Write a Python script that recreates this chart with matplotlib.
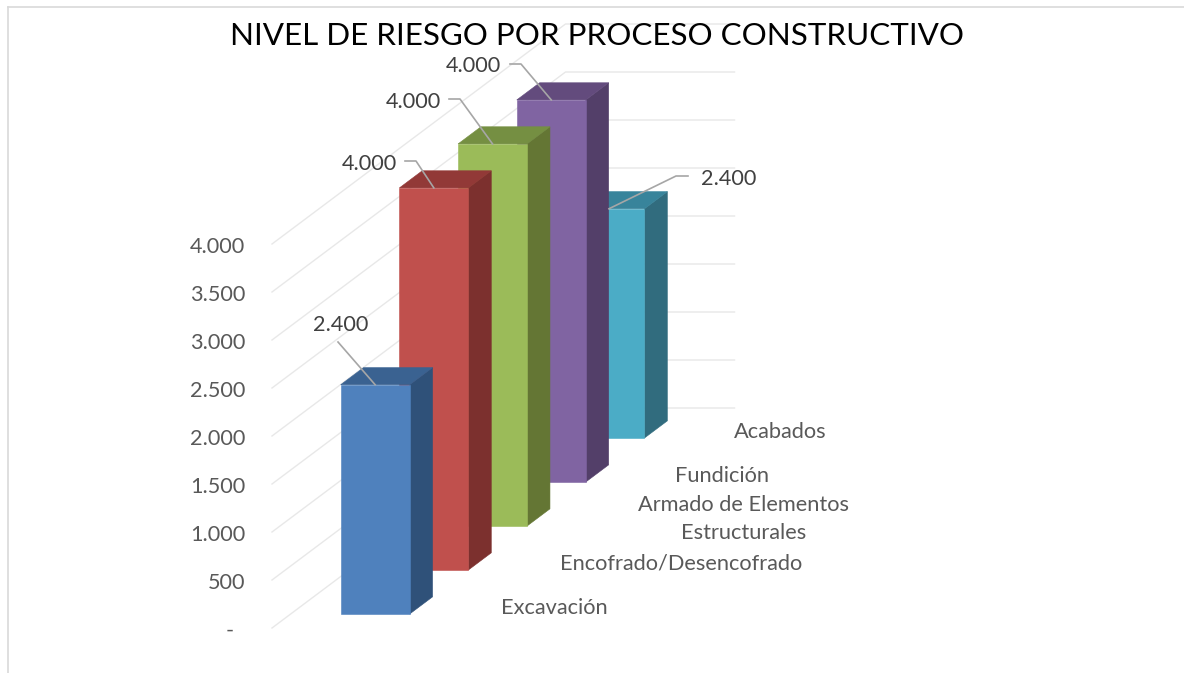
import matplotlib
matplotlib.use("Agg")
import matplotlib.pyplot as plt
from matplotlib.patches import Polygon

categories = ["Excavación", "Encofrado/Desencofrado", "Armado de Elementos\nEstructurales", "Fundición", "Acabados"]
values = [2400, 4000, 4000, 4000, 2400]
axis_ticks = [0, 500, 1000, 1500, 2000, 2500, 3000, 3500, 4000]
axis_labels = ["-", "500", "1.000", "1.500", "2.000", "2.500", "3.000", "3.500", "4.000"]
value_labels = ["2.400", "4.000", "4.000", "4.000", "2.400"]

front_colors = ["#4F81BD", "#C0504D", "#9BBB59", "#8064A2", "#4BACC6"]
side_colors = ["#2F5179", "#7C302E", "#647634", "#533F69", "#316C7E"]
top_colors = ["#3A6291", "#923937", "#758F42", "#634B7D", "#38849B"]

# oblique projection, all in pixels
X0, Y0 = 272, 628
DEPTH_DX, DEPTH_DY = 58.7, -44.0
PX_PER_UNIT = 0.096
BAR_SQUASH = 0.995  # bars sit a touch short of the gridlines
FLOOR_W = 169
BAR_U0, BAR_W = 50, 69
BAR_D0, BAR_D = 0.318, 0.39


def project(u, depth, value):
    return (X0 + u + depth * DEPTH_DX, Y0 + depth * DEPTH_DY - value * PX_PER_UNIT)


def draw_bar(ax, slot, value, front, side, top):
    d0 = slot + BAR_D0
    d1 = d0 + BAR_D
    u0 = BAR_U0
    u1 = BAR_U0 + BAR_W
    h = value * BAR_SQUASH
    z = 3 - slot * 0.1
    ax.add_patch(Polygon([project(u1, d0, 0), project(u1, d1, 0), project(u1, d1, h), project(u1, d0, h)],
                         fc=side, ec=side, lw=0.4, zorder=z))
    ax.add_patch(Polygon([project(u0, d0, h), project(u1, d0, h), project(u1, d1, h), project(u0, d1, h)],
                         fc=top, ec=top, lw=0.4, zorder=z))
    ax.add_patch(Polygon([project(u0, d0, 0), project(u1, d0, 0), project(u1, d0, h), project(u0, d0, h)],
                         fc=front, ec=front, lw=0.4, zorder=z))


plt.rcParams["font.family"] = ["Lato", "DejaVu Sans"]

fig = plt.figure(figsize=(11.84, 6.73), dpi=100)
ax = fig.add_axes([0, 0, 1, 1])
ax.set_xlim(0, 1184)
ax.set_ylim(673, 0)
ax.axis("off")

# chart frame
ax.plot([8, 1184], [7, 7], color="#D9D9D9", lw=1.2)
ax.plot([8, 8], [7, 673], color="#D9D9D9", lw=1.2)

ax.text(597, 36, "NIVEL DE RIESGO POR PROCESO CONSTRUCTIVO", fontsize=22.6, color="black", ha="center", va="center")

# gridlines on floor and walls
n_slots = len(categories)
for t, lab in zip(axis_ticks, axis_labels):
    a = project(0, 0, t)
    b = project(0, n_slots, t)
    c = project(FLOOR_W, n_slots, t)
    ax.plot([a[0], b[0], c[0]], [a[1], b[1], c[1]], color="#E8E8E8", lw=1, zorder=1)
    x_lab = 245 if lab != "-" else 234
    ax.text(x_lab, a[1] + 3, lab, fontsize=15.6, color="#595959", ha="right", va="center")

for i in range(n_slots - 1, -1, -1):
    draw_bar(ax, i, values[i], front_colors[i], side_colors[i], top_colors[i])

# value labels with leader lines
label_pos = [(341, 325), (369, 164), (413, 102), (473, 66), (729, 179)]
elbow_pts = [[(338, 342)], [(416, 161), (405, 161)], [(460, 99), (449, 99)], [(521, 64), (510, 64)], [(676, 176), (688, 176)]]
for i in range(n_slots):
    start = project(BAR_U0 + BAR_W / 2, i + BAR_D0, values[i] * BAR_SQUASH)
    if i == n_slots - 1:
        start = (start[0] - 1, start[1])
    pts = [start] + elbow_pts[i]
    ax.plot([p[0] for p in pts], [p[1] for p in pts], color="#A6A6A6", lw=1.2, zorder=6)
    ax.text(label_pos[i][0], label_pos[i][1], value_labels[i], fontsize=15.6, color="#404040", ha="center", va="center", zorder=7)

# category labels
cat_pos = [(554, 608), (681, 564), (744, 519), (722, 476), (780, 432)]
for name, (x, y) in zip(categories, cat_pos):
    ax.text(x, y, name, fontsize=15.7, color="#595959", ha="center", va="center", linespacing=1.55)

fig.savefig("out.png", dpi=100)
